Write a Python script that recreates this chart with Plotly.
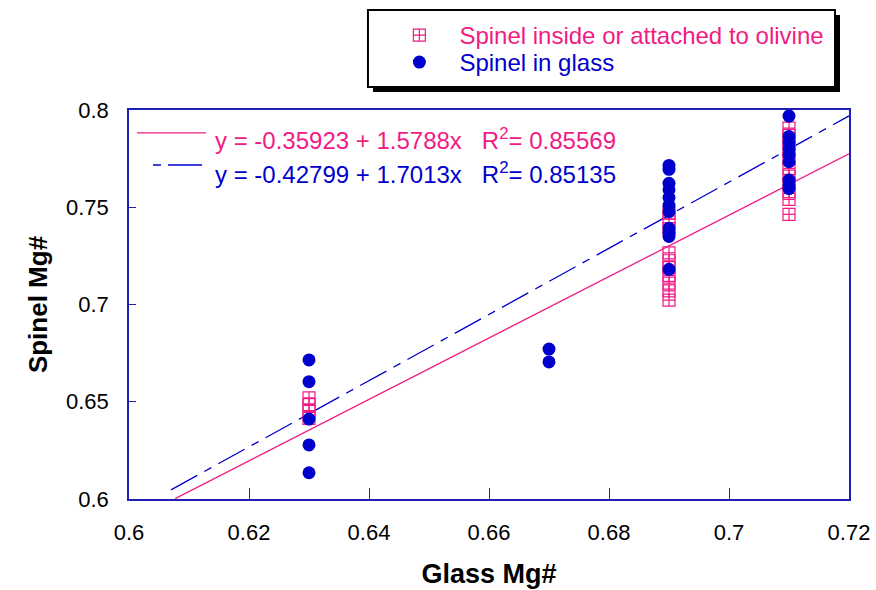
import plotly.graph_objects as go

# ---- data ----
olivine_x = [0.63] * 4 + [0.69] * 10 + [0.71] * 11
olivine_y = [0.652, 0.6485, 0.645, 0.6415,
             0.747, 0.744, 0.739, 0.7265, 0.7225, 0.719, 0.715, 0.711, 0.707, 0.7023,
             0.7907, 0.787, 0.783, 0.779, 0.775, 0.770, 0.766, 0.762, 0.758, 0.754, 0.7463]

glass_x = [0.63] * 5 + [0.67] * 2 + [0.69] * 11 + [0.71] * 9
glass_y = [0.6715, 0.6603, 0.6411, 0.6278, 0.6135,
           0.6771, 0.6705,
           0.7715, 0.7695, 0.7623, 0.759, 0.755, 0.751, 0.7478, 0.7392, 0.737, 0.735, 0.7181,
           0.7969, 0.7864, 0.783, 0.780, 0.777, 0.7734, 0.764, 0.7615, 0.7596]

series_names = ["Spinel inside or attached to olivine", "Spinel in glass"]
fit_intercepts = [-0.35923, -0.42799]
fit_slopes = [1.5788, 1.7013]
fit_r2 = [0.85569, 0.85135]
fit_x_start = [0.6077, 0.607]
fit_x_end = [0.72, 0.72]

x_ticks = [0.6, 0.62, 0.64, 0.66, 0.68, 0.7, 0.72]
y_ticks = [0.6, 0.65, 0.7, 0.75, 0.8]

PINK = "#F01B84"
BLUE = "#0000CD"
AXIS = "#1F1FB4"
FONT = "Liberation Sans, Arial, sans-serif"
NB = "\u00a0"

fig = go.Figure()

# regression lines
for i, (col, dash) in enumerate([(PINK, "solid"), (BLUE, "30px,8px,8px,8px")]):
    xs = [fit_x_start[i], fit_x_end[i]]
    ys = [fit_intercepts[i] + fit_slopes[i] * v for v in xs]
    fig.add_trace(go.Scatter(x=xs, y=ys, mode="lines", showlegend=False,
                             line=dict(color=col, width=1.3, dash=dash), hoverinfo="skip"))

fig.add_trace(go.Scatter(
    x=olivine_x, y=olivine_y, mode="markers", legend="legend",
    name=NB * 3 + f'<span style="color:{PINK}">{series_names[0]}</span>',
    marker=dict(symbol="square-cross-open", size=12, color=PINK, line=dict(width=1.2, color=PINK)),
))
fig.add_trace(go.Scatter(
    x=glass_x, y=glass_y, mode="markers", legend="legend2",
    name=NB * 3 + f'<span style="color:{BLUE}">{series_names[1]}</span>',
    marker=dict(symbol="circle", size=13, color=BLUE),
))

# equation annotations
eq_cols = [PINK, BLUE]
eq_y = [0.926, 0.837]
for i in range(2):
    sign = "-" if fit_intercepts[i] < 0 else ""
    txt = (f"y = {sign}{abs(fit_intercepts[i]):.5f} + {fit_slopes[i]:.4f}x"
           + NB * 3 + f"R<sup>2</sup>= {fit_r2[i]:.5f}")
    fig.add_annotation(x=0.117, y=eq_y[i], xref="paper", yref="paper", text=txt,
                       showarrow=False, xanchor="left", yanchor="middle",
                       font=dict(family=FONT, size=24, color=eq_cols[i]))

shapes = [
    # legend samples for fits
    dict(type="line", xref="paper", yref="paper", x0=0.0111, x1=0.1069, y0=0.941, y1=0.941,
         line=dict(color=PINK, width=1.3)),
    dict(type="line", xref="paper", yref="paper", x0=0.0333, x1=0.1014, y0=0.8586, y1=0.8586,
         line=dict(color=BLUE, width=1.3, dash="8px,7px,34px,7px")),
    # legend box shadow and box
    dict(type="rect", xref="paper", yref="paper", x0=0.3389, x1=0.9875, y0=1.0463, y1=1.2442,
         fillcolor="black", line=dict(width=0)),
    dict(type="rect", xref="paper", yref="paper", x0=0.3319, x1=0.9806, y0=1.0591, y1=1.2571,
         fillcolor="white", line=dict(color="black", width=2)),
]

axis_common = dict(showline=True, linecolor=AXIS, linewidth=1.5, mirror=True,
                   showgrid=False, zeroline=False, ticks="inside", tickcolor=AXIS,
                   tickwidth=1.2, automargin=False,
                   tickfont=dict(family=FONT, size=22, color="black"))

legend_common = dict(xanchor="left", yanchor="top", bgcolor="rgba(0,0,0,0)", borderwidth=0,
                     font=dict(family=FONT, size=24, color="black"), itemsizing="trace")

fig.update_layout(
    width=876, height=590,
    margin=dict(l=129, r=27, t=110, b=91, autoexpand=False),
    paper_bgcolor="white", plot_bgcolor="white",
    shapes=shapes,
    showlegend=True,
    legend=dict(x=0.3755, y=1.2493, **legend_common),
    legend2=dict(x=0.3755, y=1.1799, **legend_common),
    xaxis=dict(range=[0.6, 0.72], tickvals=x_ticks, ticklen=11,
               ticklabelstandoff=13,
               title=dict(text="<b>Glass Mg#</b>", standoff=20,
                          font=dict(family=FONT, size=27, color="black")),
               **axis_common),
    yaxis=dict(range=[0.6, 0.8], tickvals=y_ticks, ticklen=7,
               ticklabelstandoff=14,
               title=dict(text="<b>Spinel Mg#</b>", standoff=11,
                          font=dict(family=FONT, size=26, color="black")),
               **axis_common),
)

fig.write_html("out.html", config={"displayModeBar": False},
               post_script="document.body.style.margin='0';document.body.style.padding='0';")
